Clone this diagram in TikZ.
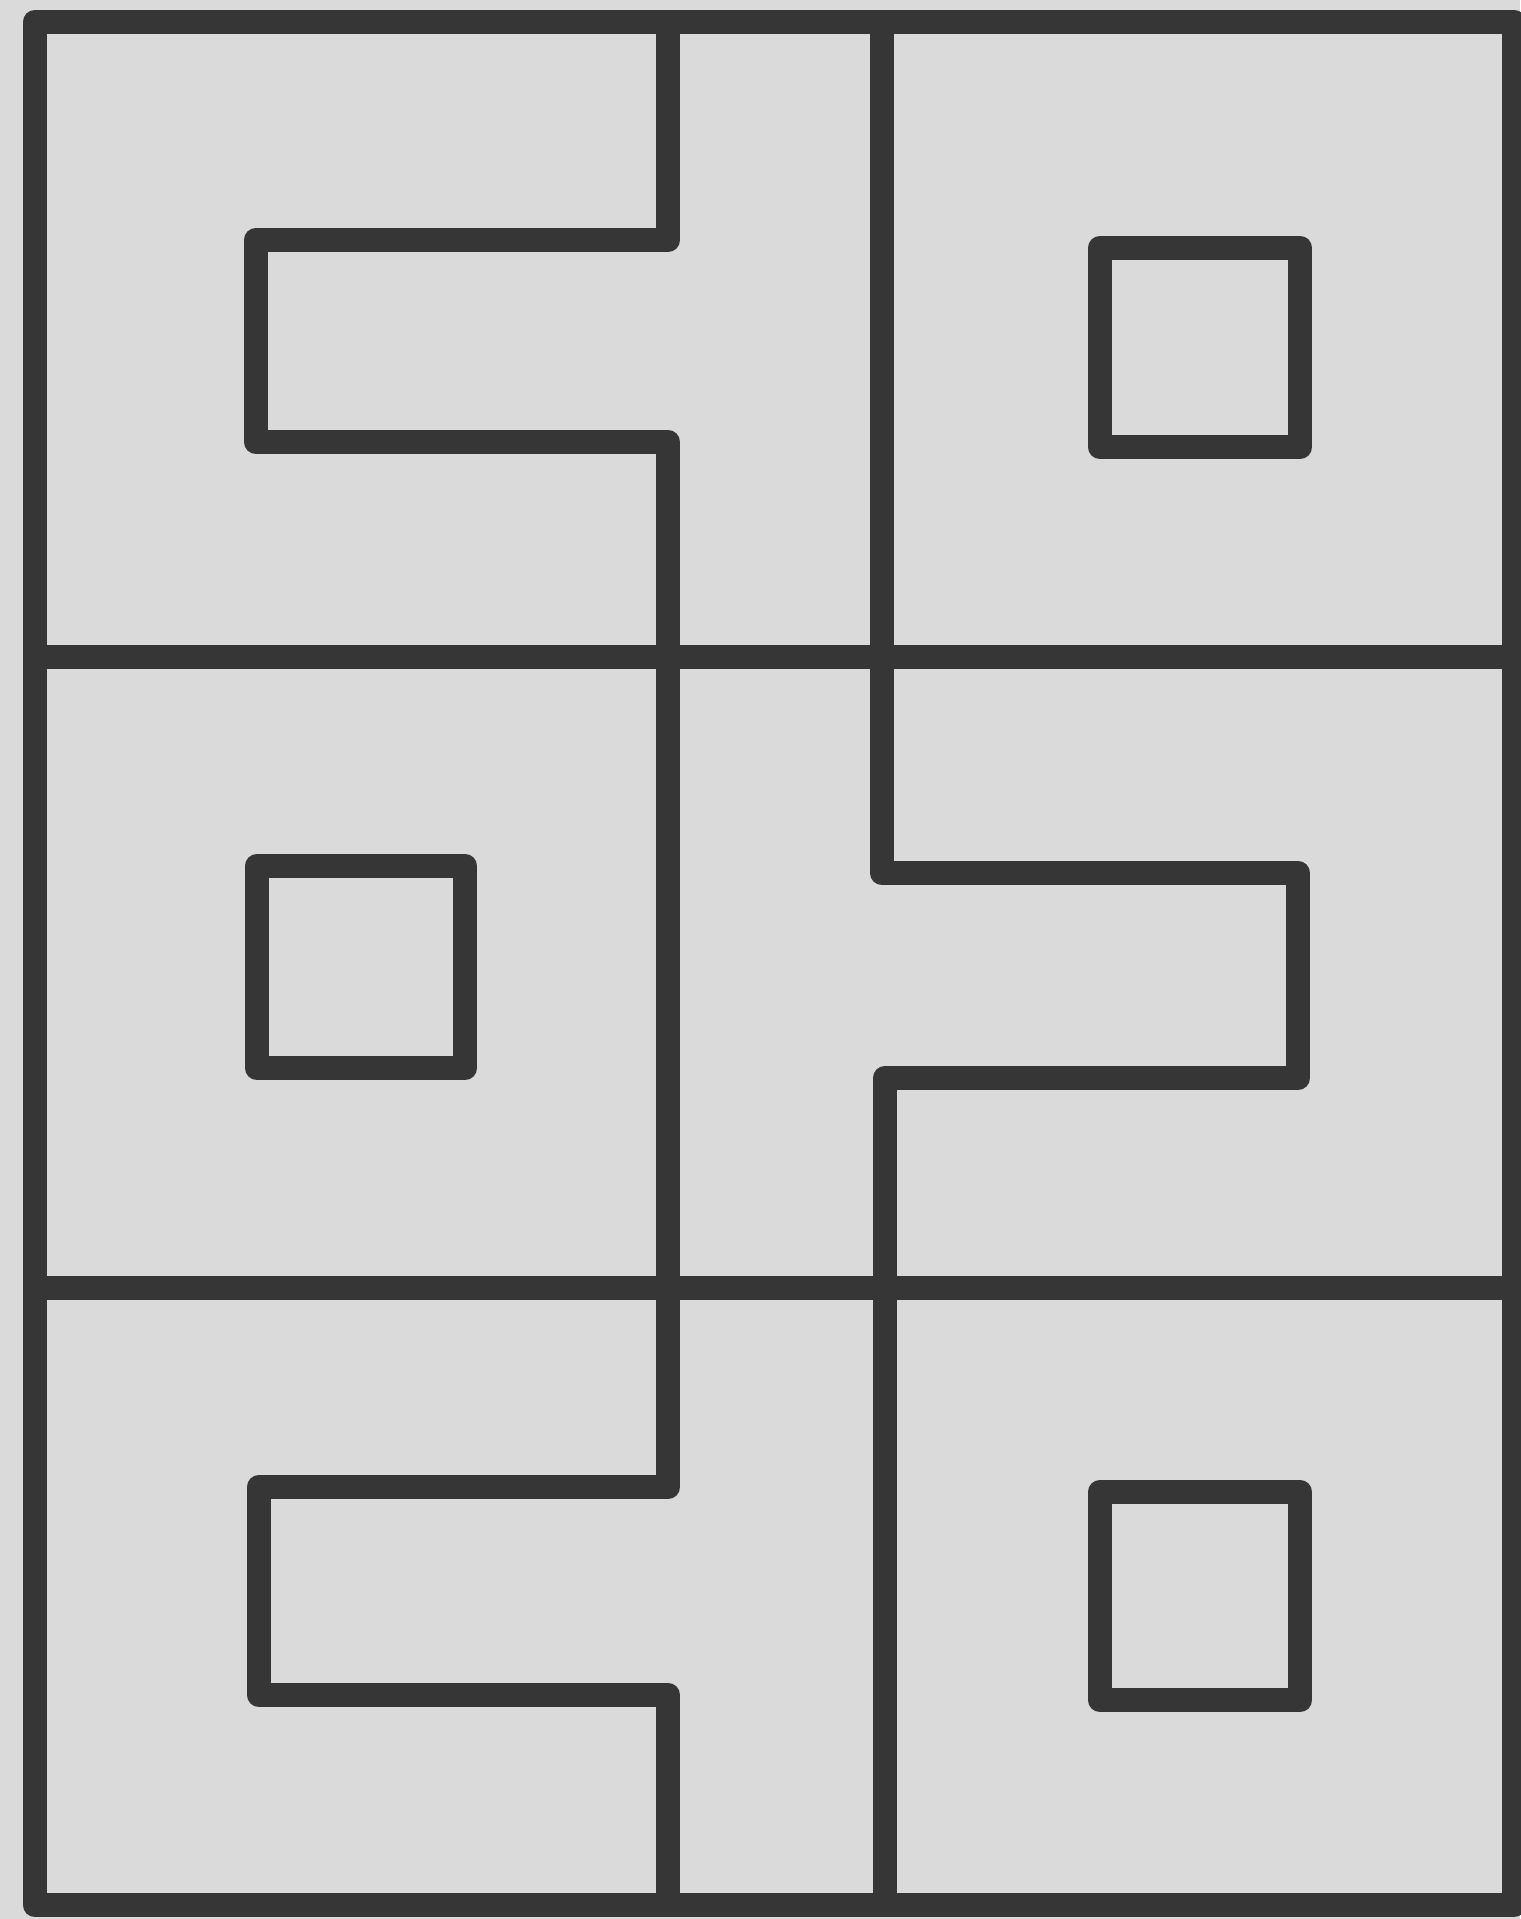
\documentclass[tikz,border=0pt]{standalone}
\usepackage{tikz}
\definecolor{paper}{HTML}{DADADA}
\definecolor{ink}{HTML}{363636}
\tikzset{
  wall/.style={draw=ink, line width=7pt, line join=round, line cap=rect},
  cell/.style={draw=ink, line width=7pt, line join=round},
}
\begin{document}
\begin{tikzpicture}[x=0.01cm, y=-0.01cm]
    \fill[paper] (0,0) rectangle (1520,1919);
    \useasboundingbox (0,0) rectangle (1520,1919);
    % frame and rows
    \draw[wall] (35,22) rectangle (1514,1905);
    \draw[wall] (35,657) -- (1514,657);
    \draw[wall] (35,1288) -- (1514,1288);
    % left divider
    \draw[wall] (668,22) -- (668,240) -- (256,240) -- (256,442) -- (668,442)
      -- (668,1487) -- (259,1487) -- (259,1695) -- (668,1695) -- (668,1905);
    % right divider
    \draw[wall] (882,22) -- (882,873) -- (1298,873) -- (1298,1078) -- (885,1078) -- (885,1905);
    % small squares
    \draw[cell] (1100,248) rectangle (1300,447);
    \draw[cell] (257,866) rectangle (465,1068);
    \draw[cell] (1100,1492) rectangle (1300,1700);
\end{tikzpicture}
\end{document}
